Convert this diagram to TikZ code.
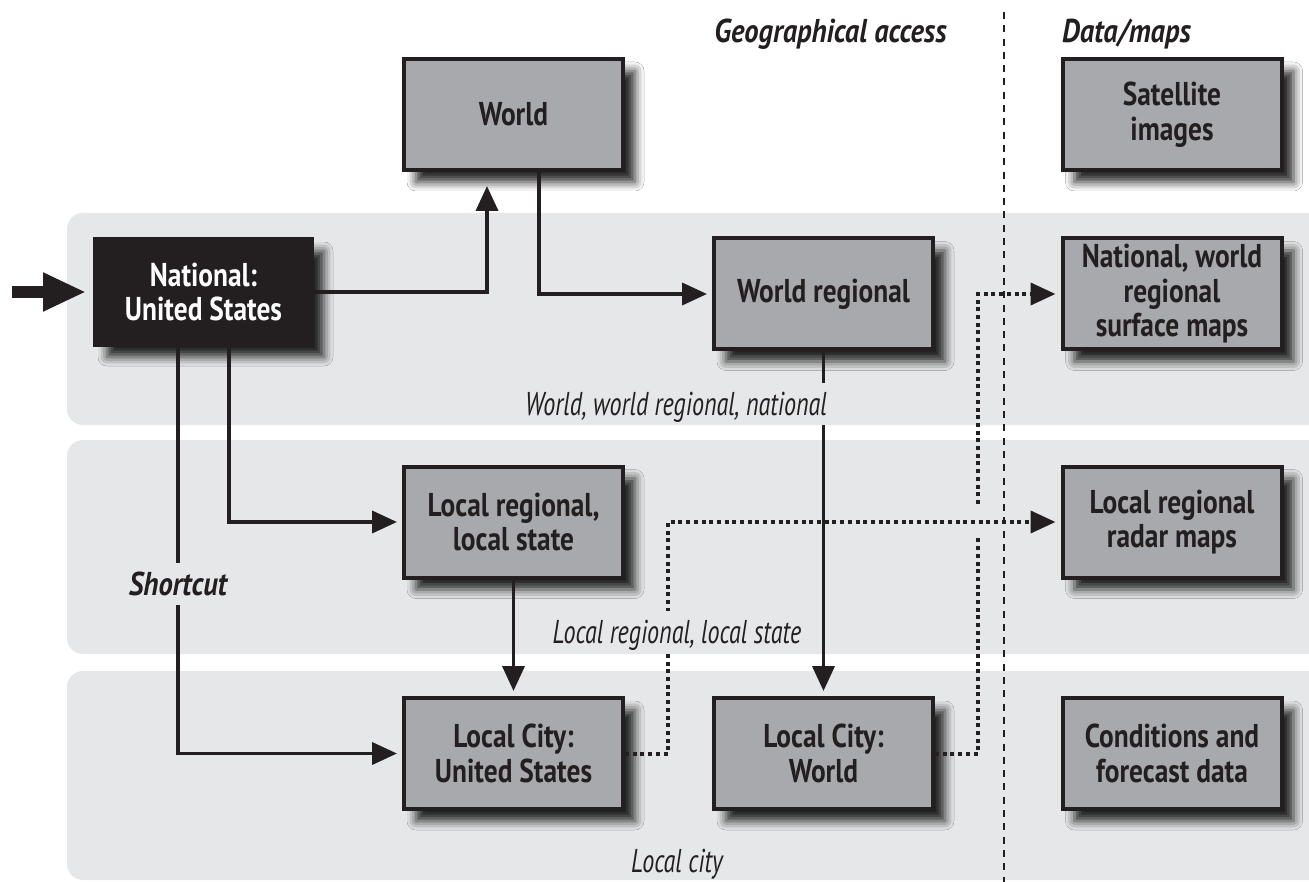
\documentclass[tikz,border=0pt]{standalone}
\usepackage{fontspec}
\setmainfont{PT Sans}[FakeStretch=0.73, BoldFeatures={FakeStretch=0.83}, BoldItalicFeatures={FakeStretch=0.865}]
\usetikzlibrary{arrows.meta,shadows.blur}
\definecolor{band}{HTML}{E6E7E8}
\definecolor{boxg}{HTML}{A7A9AC}
\definecolor{ink}{HTML}{231F20}
\begin{document}
\begin{tikzpicture}[x=1pt,y=-1pt,
  box/.style={draw=ink, line width=4pt, fill=boxg, minimum width=219pt, minimum height=111pt,
    align=center, font=\bfseries\fontsize{33}{34.5}\selectfont, text=ink, inner sep=0pt,
    blur shadow={shadow xshift=12pt, shadow yshift=-12pt, shadow blur radius=9pt, shadow opacity=85}},
  blackbox/.style={box, fill=ink, text=white, minimum height=106pt, minimum width=217pt},
  conn/.style={draw=ink, line width=3.8pt, -{Triangle[length=25pt,width=22pt]}, shorten >=5pt},
  dotln/.style={draw=ink, line width=4pt, dash pattern=on 4pt off 3.7pt, -{Triangle[length=25pt,width=22pt]}, shorten >=5pt},
  entry/.style={draw=ink, line width=12pt, -{Triangle[length=43pt,width=36pt]}, shorten >=7pt},
  divider/.style={draw=ink, line width=2pt, dash pattern=on 7pt off 6.3pt},
  lbl/.style={font=\itshape\fontsize{33}{34}\selectfont, text=ink, fill=band, inner xsep=3pt, inner ysep=0pt, text height=32pt, text depth=10pt},
  head/.style={font=\bfseries\itshape\fontsize{33}{34}\selectfont, text=ink, inner sep=0pt}
]
\useasboundingbox (0,0) rectangle (1309,882);
\begin{scope}
  \clip (0,0) rectangle (1309,882);
  \fill[white] (0,0) rectangle (1309,882);
  \fill[band, rounded corners=16pt] (67,213) rectangle (1340,425);
  \fill[band, rounded corners=16pt] (67,440) rectangle (1340,654);
  \fill[band, rounded corners=16pt] (67,671) rectangle (1340,880);
\end{scope}

% divider
\coordinate (dtop) at (1004,12);
\coordinate (dbot) at (1004,882);
\draw[divider] (dtop) -- (dbot);

% headings
\node[head, anchor=base] (hgeo) at (830.5,43) {Geographical access};
\node[head, anchor=base west] (hdata) at (1062,43) {Data/maps};

% boxes
\node[box] (world) at (513.5,114.5) {World};
\node[box] (sat) at (1172,114.5) {Satellite\\images};
\node[blackbox] (nat) at (203.5,292) {National:\\United States};
\node[box] (wreg) at (823.5,294) {World regional};
\node[box] (nwrs) at (1172,294) {National, world\\regional\\surface maps};
\node[box] (lreg) at (513.5,522) {Local regional,\\local state};
\node[box] (lrrm) at (1172,522) {Local regional\\radar maps};
\node[box] (lcus) at (513.5,753.5) {Local City:\\United States};
\node[box] (lcw) at (823.5,753.5) {Local City:\\World};
\node[box] (cfd) at (1172,753.5) {Conditions and\\forecast data};

% connectors
\coordinate (in) at (12,292);
\draw[entry] (in) -- (nat.west);
\draw[conn, shorten >=14pt] (nat.east) -| ([xshift=-26.5pt]world.south);
\draw[conn] ([xshift=25.5pt]world.south) |- (wreg.west);
\draw[conn] ([xshift=25.5pt]nat.south) |- (lreg.west);
\draw[conn] ([xshift=-25.5pt]nat.south) |- (lcus.west);
\draw[conn] (lreg.south) -- (lcus.north);
\draw[conn] (wreg.south) -- (lcw.north);

\draw[dotln] (lcw.east) -- ++(43,0) |- (nwrs.west);
\fill[band] (972,507) rectangle (984,537);
\draw[dotln] (lcus.east) -- ++(43,0) |- (lrrm.west);

% labels
\node[lbl, anchor=base] (l1) at (676,415) {World, world regional, national};
\node[lbl, anchor=base] (l2) at (677,643) {Local regional, local state};
\node[lbl, anchor=base, font=\bfseries\itshape\fontsize{33}{34}\selectfont] (l3) at (178,595) {Shortcut};
\node[lbl, anchor=base, fill=none] (l4) at (677,872) {Local city};
\end{tikzpicture}
\end{document}
